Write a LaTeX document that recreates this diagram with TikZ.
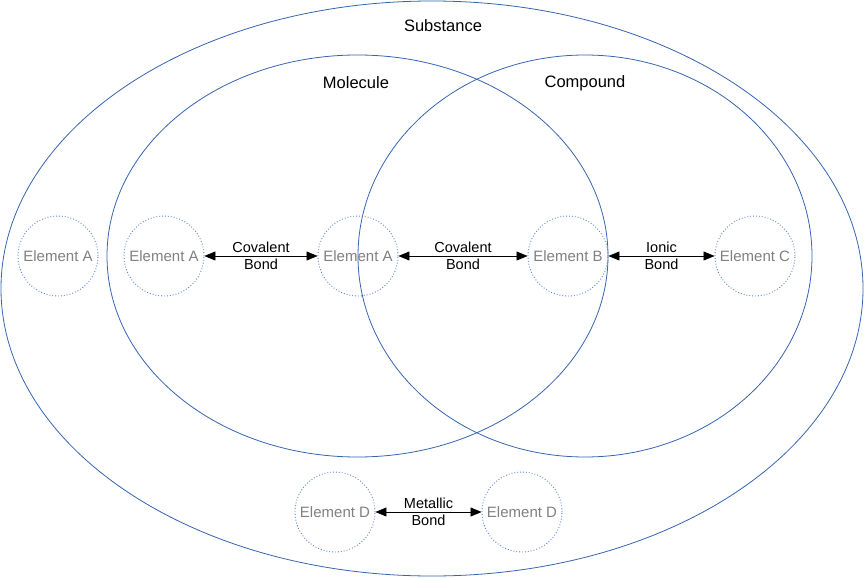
\documentclass[tikz,border=0pt]{standalone}
\usepackage{fontspec}
\setmainfont{Liberation Sans}
\usepackage{tikz}
\usetikzlibrary{arrows.meta,positioning}

\definecolor{setblue}{RGB}{54,100,176}
\definecolor{dotblue}{RGB}{90,130,200}
\definecolor{elgray}{RGB}{128,128,128}

\begin{document}
\begin{tikzpicture}[
  x=1pt, y=-1pt,
  setline/.style={draw=setblue, line width=0.8pt},
  title/.style={font=\fontsize{16.5}{18}\selectfont, inner sep=0pt},
  elem/.style={circle, draw=dotblue, dotted, line width=0.9pt, minimum size=80pt,
               inner sep=0pt, text=elgray, font=\fontsize{15}{17}\selectfont},
  bond/.style={{Triangle[length=11pt,width=9pt]}-{Triangle[length=11pt,width=9pt]},
               line width=0.6pt, black},
  blabel/.style={align=center, inner sep=0pt, font=\fontsize{14.5}{17}\selectfont}
]
  \useasboundingbox (0,0) rectangle (865,578);
  % Sets
  \draw[setline] (432,288.5) ellipse [x radius=431, y radius=287.5];
  \draw[setline] (357.5,256) ellipse [x radius=250.5, y radius=201];
  \draw[setline] (585,256) ellipse [x radius=227, y radius=201];
  \node[title] (subst) at (443,26) {Substance};
  \node[title] (molec) at (356,83) {Molecule};
  \node[title] (comp)  at (585,83) {Compound};
  % Elements
  \node[elem] (a1) at (58,256)  {Element A};
  \node[elem] (a2) at (164,256) {Element A};
  \node[elem] (a3) at (358,256) {Element A};
  \node[elem] (b1) at (568,256) {Element B};
  \node[elem] (c1) at (755,256) {Element C};
  \node[elem] (d1) at (335,512) {Element D};
  \node[elem] (d2) at (522,512) {Element D};
  % Bonds
  \draw[bond] (a2) -- (a3) node[midway, blabel] {Covalent\\Bond};
  \draw[bond] (a3) -- (b1) node[midway, blabel] {Covalent\\Bond};
  \draw[bond] (b1) -- (c1) node[midway, blabel] {Ionic\\Bond};
  \draw[bond] (d1) -- (d2) node[midway, blabel] {Metallic\\Bond};
\end{tikzpicture}
\end{document}
